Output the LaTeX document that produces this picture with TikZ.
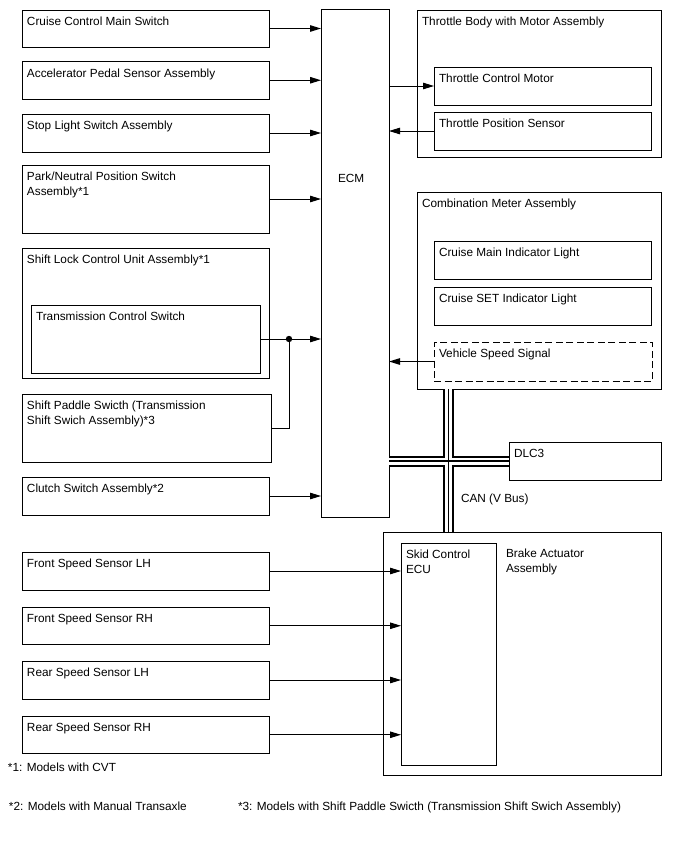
\documentclass[tikz,border=0pt]{standalone}
\usepackage{fontspec}
\setmainfont{Liberation Sans}
\usetikzlibrary{arrows.meta}
\tikzset{
  blk/.style={draw, line width=1pt, inner sep=0pt, outer sep=0pt, anchor=north west},
  lbl/.style={anchor=base west, inner sep=0pt, outer sep=0pt, align=left, font={\fontsize{11.8}{15}\selectfont}},
  arr/.style={line width=1pt, -{Triangle[length=11pt,width=6.5pt]}},
  wire/.style={line width=1pt},
  busout/.style={line width=11pt, black},
  busmid/.style={line width=7pt, white},
  busin/.style={line width=1.6pt, black},
}
% box with one-line label
\newcommand\blk[6]{%
  \node[blk, minimum width=#4pt, minimum height=#5pt] (#1) at (#2,#3) {};
  \node[lbl] (#1-t) at ([xshift=5pt,yshift=-15.5pt]#1.north west) {#6};}
% box with two-line label (base anchor sits on the last line)
\newcommand\blkk[6]{%
  \node[blk, minimum width=#4pt, minimum height=#5pt] (#1) at (#2,#3) {};
  \node[lbl] (#1-t) at ([xshift=5pt,yshift=-30.5pt]#1.north west) {#6};}
\begin{document}
\begin{tikzpicture}[x=1pt,y=-1pt]
\useasboundingbox (0,0) rectangle (688,852);
% left column
\blk{ccms}{22}{10}{247}{37}{Cruise Control Main Switch}
\blk{aps}{22}{61.5}{247}{37.5}{Accelerator Pedal Sensor Assembly}
\blk{sls}{22}{114}{247}{38}{Stop Light Switch Assembly}
\blkk{pnp}{22}{165}{247}{68}{Park/Neutral Position Switch\\Assembly*1}
\blk{slc}{22}{248}{247}{130}{Shift Lock Control Unit Assembly*1}
\blk{tcs}{31}{305}{229}{68}{Transmission Control Switch}
\blkk{spd}{22}{394}{249}{68}{Shift Paddle Swicth (Transmission\\Shift Swich Assembly)*3}
\blk{clu}{22}{477}{247}{38}{Clutch Switch Assembly*2}
% ECM
\node[blk, minimum width=68pt, minimum height=508pt] (ecm) at (321,9) {};
\node[lbl] (ecm-t) at (338,182) {ECM};
% throttle body
\blk{tb}{417}{10}{244}{147}{Throttle Body with Motor Assembly}
\blk{tcm}{434}{67}{217}{38}{Throttle Control Motor}
\blk{tps}{434}{112}{217}{38}{Throttle Position Sensor}
% combination meter
\blk{cm}{417}{192}{244}{197}{Combination Meter Assembly}
\blk{cmil}{434}{241}{217}{38}{Cruise Main Indicator Light}
\blk{csil}{434}{287}{217}{38}{Cruise SET Indicator Light}
\node[blk, dash pattern=on 7pt off 3.5pt, minimum width=218pt, minimum height=39pt] (vss) at (434,342) {};
\node[lbl] (vss-t) at (439,357) {Vehicle Speed Signal};
% DLC3
\blk{dlc}{509}{442}{152}{38}{DLC3}
% brake actuator
\node[blk, minimum width=278pt, minimum height=243pt] (brake) at (383,532) {};
\node[lbl] (brake-t) at (506,572) {Brake Actuator\\Assembly};
\blkk{skid}{401}{543}{95}{222}{Skid Control\\ECU}
% speed sensors
\blk{fsl}{22}{552}{247}{38}{Front Speed Sensor LH}
\blk{fsr}{22}{607}{247}{37.5}{Front Speed Sensor RH}
\blk{rsl}{22}{661}{247}{38}{Rear Speed Sensor LH}
\blk{rsr}{22}{716}{247}{37.5}{Rear Speed Sensor RH}
% inputs to ECM
\draw[arr] (ccms.east) -- (ccms.east -| ecm.west);
\draw[arr] (aps.east) -- (aps.east -| ecm.west);
\draw[arr] (sls.east) -- (sls.east -| ecm.west);
\draw[arr] (pnp.east) -- (pnp.east -| ecm.west);
\coordinate (j) at ([xshift=29pt]tcs.east);
\draw[wire] (tcs.east) -- (j);
\draw[arr] (j) -- (j -| ecm.west);
\draw[wire] (spd.east) -| (j);
\fill (j) circle (3.2pt);
\draw[arr] (clu.east) -- (clu.east -| ecm.west);
% throttle
\draw[arr] (tcm.west -| ecm.east) -- (tcm.west);
\draw[arr] (tps.west) -- (tps.west -| ecm.east);
\draw[arr] (vss.west) -- (vss.west -| ecm.east);
% speed sensors to skid
\draw[arr] (fsl.east) -- (fsl.east -| skid.west);
\draw[arr] (fsr.east) -- (fsr.east -| skid.west);
\draw[arr] (rsl.east) -- (rsl.east -| skid.west);
\draw[arr] (rsr.east) -- (rsr.east -| skid.west);
% CAN bus
\coordinate (bx) at (448.5,461);
\foreach \s in {busout,busmid,busin}{
  \draw[\s] (bx |- cm.south) -- (bx |- brake.north);
  \draw[\s] (bx -| ecm.east) -- (bx -| dlc.west);
}
\node[lbl] (can) at (461,502) {CAN (V Bus)};
% footnotes
\node[lbl] (n1) at (8,771) {*1: Models with CVT};
\node[lbl] (n2) at (9,810) {*2: Models with Manual Transaxle};
\node[lbl] (n3) at (238,810) {*3: Models with Shift Paddle Swicth (Transmission Shift Swich Assembly)};
\end{tikzpicture}
\end{document}
